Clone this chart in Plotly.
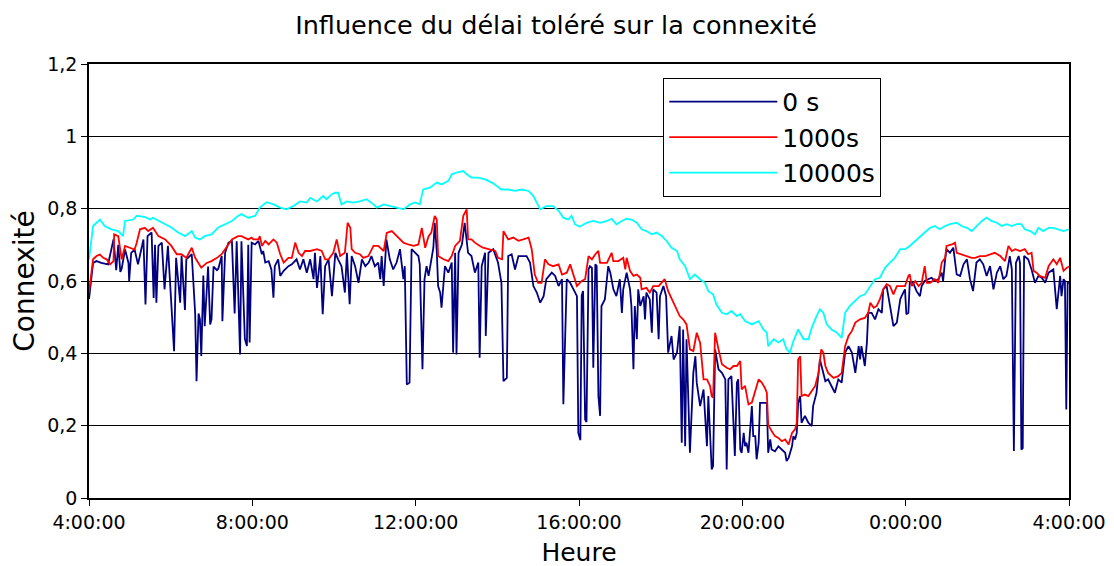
import pandas as pd
import plotly.graph_objects as go

# temps en minutes depuis 4:00:00, connexité
t_0s = [0, 6, 11, 18, 28, 36, 40, 43, 46, 48, 53, 58, 59, 62, 67, 72, 80, 83, 86, 92,
        95, 97, 99, 102, 107, 111, 116, 121, 125, 128, 134, 136, 141, 143, 151, 156, 158, 161, 163, 165,
        168, 170, 175, 178, 180, 183, 188, 190, 195, 196, 200, 205, 210, 214, 217, 222, 224, 229, 232, 234,
        236, 239, 244, 249, 254, 256, 259, 264, 268, 271, 273, 278, 281, 286, 293, 298, 305, 310, 315, 320,
        325, 330, 332, 335, 340, 342, 343.4, 347, 352, 357, 362, 366, 371, 376, 379, 383, 386, 391, 396, 401,
        406, 411, 415, 420, 425, 428, 430, 433, 437, 442, 447, 452, 457, 462, 464, 467, 471, 474, 479, 484,
        486, 490, 493, 496, 499, 503, 506, 508, 511, 513, 516, 518, 521, 523, 528, 533, 535, 538, 540, 543,
        548, 552, 557, 562, 567, 572, 574, 577, 582, 583, 587, 594, 601, 606, 609, 614, 616, 621, 626, 631,
        636, 643, 648, 653, 658, 663, 668, 672, 680, 685, 690, 695, 697, 702, 707, 712, 717, 719, 722, 724,
        726, 729, 731, 734, 736, 739, 741, 744, 746, 748.5, 751, 753, 758, 761, 763, 766, 770.5, 775, 780, 783,
        785, 790, 795, 797, 800, 802, 805, 807, 810, 815, 817, 819, 824, 827, 829, 834, 837, 839, 844, 848,
        851, 856, 859, 864, 868, 871, 873, 876, 878, 883, 888, 891, 893, 898, 903, 908, 910, 915, 917, 920,
        925, 930, 935, 937, 939.5, 944, 949, 952, 954, 957, 959, 962, 964, 966, 969, 974, 976, 979, 981, 984,
        986, 991, 996, 998, 1001, 1003, 1008, 1013, 1018, 1023, 1025, 1028, 1033, 1035, 1037.5, 1040, 1042, 1045, 1047, 1052,
        1057, 1062, 1064, 1069, 1074, 1079, 1082, 1086, 1091, 1096, 1101, 1106, 1111, 1116, 1121, 1126, 1131, 1133, 1135, 1140,
        1143, 1145, 1150, 1155, 1160, 1165, 1167, 1172, 1177, 1182, 1187, 1192, 1194, 1199, 1201, 1204, 1206, 1211, 1216, 1221,
        1223.5, 1228, 1233, 1238, 1243, 1248, 1253, 1255, 1258, 1260, 1265, 1270, 1275, 1280, 1285, 1290, 1294.5, 1299, 1304, 1309,
        1314, 1319, 1324, 1329, 1334, 1339, 1343.5, 1348, 1353, 1356, 1359, 1362, 1366, 1368, 1370, 1372, 1374, 1380, 1385, 1390,
        1395, 1400, 1405, 1410, 1417, 1422, 1427, 1429, 1432, 1434, 1436, 1438, 1440]
c_0s = [0.55, 0.65, 0.655, 0.65, 0.646, 0.715, 0.63, 0.70, 0.625, 0.634, 0.687, 0.65, 0.60, 0.678, 0.687, 0.646, 0.715, 0.535, 0.724, 0.734,
        0.553, 0.70, 0.54, 0.697, 0.706, 0.577, 0.697, 0.55, 0.406, 0.664, 0.54, 0.67, 0.52, 0.66, 0.674, 0.51, 0.323, 0.51, 0.494, 0.393,
        0.615, 0.475, 0.64, 0.48, 0.494, 0.64, 0.63, 0.634, 0.669, 0.489, 0.678, 0.706, 0.71, 0.51, 0.71, 0.397, 0.71, 0.44, 0.42, 0.70,
        0.43, 0.706, 0.701, 0.711, 0.674, 0.683, 0.651, 0.655, 0.632, 0.554, 0.641, 0.66, 0.614, 0.628, 0.641, 0.646, 0.66, 0.632, 0.66, 0.623,
        0.66, 0.605, 0.678, 0.581, 0.669, 0.568, 0.508, 0.641, 0.66, 0.558, 0.678, 0.66, 0.641, 0.568, 0.678, 0.536, 0.669, 0.641, 0.595, 0.66,
        0.641, 0.651, 0.669, 0.641, 0.651, 0.605, 0.669, 0.586, 0.715, 0.66, 0.632, 0.651, 0.688, 0.605, 0.641, 0.314, 0.319, 0.688, 0.678, 0.669,
        0.646, 0.356, 0.605, 0.641, 0.614, 0.66, 0.692, 0.761, 0.683, 0.586, 0.568, 0.526, 0.605, 0.641, 0.623, 0.651, 0.402, 0.678, 0.397, 0.678,
        0.701, 0.761, 0.678, 0.669, 0.623, 0.651, 0.388, 0.641, 0.678, 0.448, 0.678, 0.688, 0.651, 0.595, 0.323, 0.332, 0.669, 0.674, 0.632, 0.669,
        0.669, 0.669, 0.651, 0.586, 0.568, 0.54, 0.558, 0.605, 0.623, 0.614, 0.586, 0.605, 0.259, 0.605, 0.595, 0.577, 0.558, 0.18, 0.16, 0.56,
        0.572, 0.217, 0.21, 0.632, 0.641, 0.636, 0.36, 0.646, 0.641, 0.282, 0.227, 0.531, 0.549, 0.605, 0.641, 0.623, 0.577, 0.558, 0.605, 0.512,
        0.577, 0.623, 0.577, 0.531, 0.356, 0.531, 0.439, 0.577, 0.531, 0.558, 0.494, 0.568, 0.549, 0.457, 0.577, 0.568, 0.439, 0.558, 0.586, 0.558,
        0.402, 0.448, 0.383, 0.402, 0.475, 0.153, 0.466, 0.143, 0.439, 0.125, 0.346, 0.392, 0.319, 0.254, 0.30, 0.143, 0.282, 0.079, 0.088, 0.411,
        0.356, 0.346, 0.328, 0.079, 0.328, 0.337, 0.116, 0.319, 0.328, 0.134, 0.125, 0.18, 0.143, 0.153, 0.125, 0.254, 0.171, 0.171, 0.107, 0.153,
        0.263, 0.263, 0.263, 0.125, 0.162, 0.134, 0.129, 0.143, 0.134, 0.125, 0.102, 0.111, 0.143, 0.171, 0.162, 0.18, 0.263, 0.282, 0.208, 0.227,
        0.208, 0.199, 0.254, 0.291, 0.383, 0.346, 0.323, 0.328, 0.31, 0.291, 0.328, 0.319, 0.402, 0.42, 0.402, 0.346, 0.42, 0.383, 0.42, 0.365,
        0.429, 0.512, 0.512, 0.494, 0.522, 0.512, 0.577, 0.586, 0.531, 0.475, 0.485, 0.549, 0.558, 0.577, 0.508, 0.512, 0.595, 0.595, 0.572, 0.558,
        0.586, 0.60, 0.605, 0.609, 0.60, 0.605, 0.623, 0.60, 0.66, 0.688, 0.678, 0.692, 0.618, 0.614, 0.646, 0.66, 0.605, 0.572, 0.651, 0.66,
        0.646, 0.614, 0.641, 0.577, 0.623, 0.641, 0.605, 0.614, 0.669, 0.632, 0.13, 0.65, 0.669, 0.65, 0.134, 0.138, 0.669, 0.66, 0.632, 0.595,
        0.614, 0.609, 0.595, 0.623, 0.632, 0.522, 0.614, 0.558, 0.605, 0.60, 0.245, 0.595, 0.595]

t_1000s = [0, 6, 11, 16, 21, 26, 31, 36, 37, 43, 48, 53, 60, 67, 70, 75, 82, 87, 94, 102,
           112, 121, 129, 136, 143, 151, 156, 161, 165, 173, 180, 188, 195, 200, 210, 219, 224, 234, 239, 241.5,
           249, 251, 254, 259, 264, 271, 276, 281, 286, 293, 298, 303, 308, 313, 317.5, 325, 335, 342, 347, 352,
           359, 364, 369, 376, 380, 384, 386, 391, 398, 403, 410.5, 418, 425, 433, 437.5, 445, 452, 457, 462, 469,
           477, 484, 489, 494, 499, 503, 508, 511, 513, 521, 528, 533, 538, 545, 550, 555, 557, 562, 567, 574.5,
           579, 587, 597, 601, 607, 609, 616, 623.5, 631, 638, 646, 650.5, 655, 660, 665, 670, 675, 682, 690, 695,
           702, 707, 712, 717, 724, 729, 734, 739, 744, 748.5, 751, 761, 768, 770.5, 778, 785, 788, 790, 795, 800,
           805, 810, 812, 819, 824, 829, 837, 842, 846, 851, 859, 864, 868, 873, 878, 883, 888, 893, 898, 903,
           908, 912.5, 915, 917, 920, 925, 930, 937, 942, 947, 952, 957, 959, 964, 969, 974, 979, 984, 988.5, 993,
           996, 998, 1003, 1008, 1013, 1018, 1023, 1028, 1033, 1037.5, 1040, 1042, 1045, 1047, 1052, 1057, 1062, 1067, 1072, 1076,
           1079, 1082, 1086, 1094, 1101, 1106, 1111, 1116, 1121, 1126, 1133, 1140, 1145, 1148, 1153, 1157.5, 1162, 1167, 1172, 1177,
           1182, 1187, 1194, 1199, 1204, 1206, 1209, 1214, 1219, 1223.5, 1228, 1231, 1236, 1243, 1248, 1253, 1258, 1260, 1268, 1272.5,
           1275, 1282, 1290, 1297, 1302, 1309, 1317, 1324, 1331, 1339, 1346, 1351, 1356, 1361, 1368, 1375, 1380, 1385, 1388, 1392.5,
           1397, 1405, 1410, 1417, 1422, 1427, 1432, 1437, 1440]
c_1000s = [0.568, 0.66, 0.669, 0.673, 0.664, 0.66, 0.646, 0.655, 0.729, 0.724, 0.66, 0.697, 0.692, 0.687, 0.705, 0.743, 0.747, 0.738, 0.747, 0.724,
           0.715, 0.697, 0.674, 0.674, 0.664, 0.692, 0.664, 0.65, 0.637, 0.65, 0.655, 0.664, 0.674, 0.688, 0.715, 0.724, 0.724, 0.715, 0.72, 0.715,
           0.715, 0.724, 0.697, 0.711, 0.701, 0.715, 0.706, 0.674, 0.651, 0.664, 0.664, 0.706, 0.678, 0.669, 0.683, 0.683, 0.688, 0.683, 0.66, 0.66,
           0.678, 0.715, 0.669, 0.678, 0.761, 0.747, 0.688, 0.678, 0.674, 0.664, 0.669, 0.697, 0.697, 0.683, 0.733, 0.738, 0.724, 0.715, 0.706, 0.701,
           0.697, 0.701, 0.747, 0.692, 0.724, 0.734, 0.78, 0.77, 0.669, 0.66, 0.655, 0.669, 0.697, 0.711, 0.78, 0.798, 0.715, 0.715, 0.706, 0.697,
           0.692, 0.688, 0.683, 0.664, 0.66, 0.738, 0.715, 0.72, 0.711, 0.715, 0.72, 0.688, 0.618, 0.595, 0.595, 0.66, 0.646, 0.641, 0.646, 0.618,
           0.623, 0.646, 0.614, 0.586, 0.60, 0.605, 0.669, 0.66, 0.674, 0.683, 0.65, 0.65, 0.678, 0.655, 0.655, 0.664, 0.632, 0.664, 0.628, 0.614,
           0.618, 0.609, 0.577, 0.581, 0.568, 0.586, 0.586, 0.595, 0.605, 0.572, 0.54, 0.517, 0.503, 0.494, 0.48, 0.411, 0.406, 0.457, 0.429, 0.328,
           0.328, 0.31, 0.282, 0.277, 0.457, 0.411, 0.37, 0.36, 0.356, 0.365, 0.365, 0.379, 0.30, 0.31, 0.259, 0.264, 0.296, 0.328, 0.319, 0.305,
           0.291, 0.203, 0.185, 0.171, 0.166, 0.157, 0.162, 0.148, 0.18, 0.19, 0.208, 0.383, 0.392, 0.282, 0.286, 0.282, 0.296, 0.31, 0.346, 0.411,
           0.402, 0.365, 0.346, 0.332, 0.337, 0.346, 0.42, 0.448, 0.462, 0.485, 0.494, 0.498, 0.512, 0.54, 0.526, 0.531, 0.549, 0.577, 0.591, 0.586,
           0.563, 0.586, 0.586, 0.586, 0.614, 0.618, 0.586, 0.60, 0.586, 0.595, 0.641, 0.595, 0.595, 0.605, 0.595, 0.651, 0.664, 0.697, 0.701, 0.706,
           0.678, 0.674, 0.669, 0.664, 0.664, 0.669, 0.669, 0.674, 0.678, 0.669, 0.655, 0.697, 0.683, 0.688, 0.683, 0.688, 0.674, 0.678, 0.628, 0.623,
           0.614, 0.609, 0.641, 0.66, 0.646, 0.664, 0.628, 0.637, 0.64]

t_10000s = [0, 6, 16, 23, 33, 43, 50, 53, 65, 70, 82, 90, 94, 102, 112, 121, 131, 141, 151, 156,
            163, 170, 180, 190, 200, 210, 219, 224, 234, 244, 251, 261, 271, 281, 290, 300, 310, 320, 325, 335,
            344, 349, 357, 362, 366, 371, 379, 388, 398, 408, 418, 423, 433, 442, 452, 462, 472, 479, 486, 491,
            501, 511, 518, 528, 533, 540, 550, 555, 562, 572, 582, 592, 599, 606, 616, 626, 636, 646, 653, 660,
            663, 672, 682, 690, 697, 704, 709, 714, 721, 731, 741, 751, 761, 768, 775, 783, 790, 797, 805, 812,
            819, 827, 834, 842, 849, 856, 864, 868, 876, 883, 890, 898, 905, 910, 917, 922, 930, 937, 944, 952,
            957, 964, 974, 984, 991, 996, 998, 1006, 1013, 1020, 1025, 1030, 1035, 1042, 1050, 1057, 1062, 1069, 1074, 1079,
            1084, 1091, 1099, 1106, 1111, 1118, 1126, 1133, 1140, 1148, 1155, 1162, 1170, 1177, 1184, 1192, 1199, 1206, 1214, 1221,
            1228, 1236, 1243, 1250, 1258, 1265, 1275, 1282, 1290, 1297, 1304, 1312, 1319, 1326, 1334, 1341, 1348, 1356, 1363, 1370,
            1375, 1383, 1390, 1395, 1402, 1410, 1417, 1424, 1432, 1440]
c_10000s = [0.66, 0.752, 0.77, 0.752, 0.743, 0.738, 0.724, 0.766, 0.77, 0.78, 0.777, 0.77, 0.775, 0.766, 0.757, 0.748, 0.734, 0.724, 0.738, 0.72,
            0.715, 0.724, 0.729, 0.748, 0.757, 0.766, 0.78, 0.785, 0.775, 0.78, 0.803, 0.818, 0.812, 0.803, 0.798, 0.807, 0.82, 0.817, 0.83, 0.82,
            0.835, 0.826, 0.84, 0.844, 0.844, 0.812, 0.82, 0.817, 0.82, 0.826, 0.812, 0.803, 0.812, 0.807, 0.803, 0.798, 0.812, 0.817, 0.812, 0.853,
            0.858, 0.872, 0.867, 0.877, 0.895, 0.90, 0.904, 0.895, 0.886, 0.886, 0.881, 0.872, 0.863, 0.853, 0.853, 0.849, 0.853, 0.849, 0.835, 0.807,
            0.798, 0.807, 0.807, 0.794, 0.775, 0.77, 0.78, 0.757, 0.75, 0.761, 0.766, 0.761, 0.766, 0.772, 0.757, 0.766, 0.772, 0.77, 0.761, 0.743,
            0.738, 0.729, 0.734, 0.724, 0.71, 0.692, 0.683, 0.66, 0.641, 0.605, 0.618, 0.605, 0.595, 0.572, 0.563, 0.535, 0.512, 0.508, 0.517, 0.503,
            0.508, 0.489, 0.48, 0.489, 0.466, 0.457, 0.42, 0.439, 0.43, 0.439, 0.411, 0.402, 0.434, 0.466, 0.439, 0.439, 0.471, 0.503, 0.522, 0.512,
            0.48, 0.466, 0.457, 0.443, 0.512, 0.531, 0.545, 0.558, 0.563, 0.586, 0.605, 0.609, 0.637, 0.651, 0.664, 0.688, 0.688, 0.697, 0.711, 0.724,
            0.734, 0.747, 0.752, 0.743, 0.752, 0.757, 0.761, 0.752, 0.747, 0.738, 0.752, 0.766, 0.775, 0.766, 0.761, 0.752, 0.757, 0.752, 0.757, 0.757,
            0.743, 0.738, 0.729, 0.747, 0.738, 0.747, 0.747, 0.743, 0.738, 0.743]

noms = ["0 s", "1000s", "10000s"]
couleurs = ["#000080", "#ff0000", "#00ffff"]

debut = pd.Timestamp("2000-01-01 04:00:00")


def heures(minutes):
    return debut + pd.to_timedelta(minutes, unit="m")


fig = go.Figure()
for t, c, nom, coul in zip([t_0s, t_1000s, t_10000s], [c_0s, c_1000s, c_10000s], noms, couleurs):
    fig.add_trace(go.Scatter(x=heures(t), y=c, mode="lines", name=nom,
                             line=dict(color=coul, width=1.8)))

police = "DejaVu Sans, sans-serif"
# la page ajoute 8 px de marge autour du graphique : on décale les marges d'autant
fig.update_layout(
    width=1114, height=566,
    margin=dict(l=81, r=53, t=56, b=76),
    paper_bgcolor="white", plot_bgcolor="white",
    separators=", ",
    font=dict(family=police, color="black"),
    title=dict(text="Influence du délai toléré sur la connexité", x=0.492, xanchor="center",
               y=0.97, yanchor="middle", font=dict(size=25.5)),
    legend=dict(x=0.586, y=0.968, xanchor="left", yanchor="top", bordercolor="black", borderwidth=1,
                bgcolor="white", font=dict(size=25), itemwidth=108, tracegroupgap=0),
    showlegend=True,
)
fig.update_xaxes(range=[heures(0), heures(1440)], type="date", tickformat="%-H:%M:%S",
                 dtick=4 * 3600 * 1000, tick0=heures(0), showgrid=False, showline=True,
                 linecolor="black", linewidth=1.5, mirror=True, ticks="outside", ticklen=6,
                 tickcolor="black", tickfont=dict(size=19), automargin=False,
                 title=dict(text="Heure", font=dict(size=25), standoff=12))
fig.update_yaxes(range=[0, 1.2], dtick=0.2, showgrid=True, gridcolor="black", gridwidth=1,
                 showline=True, linecolor="black", linewidth=1.5, mirror=True, ticks="outside",
                 ticklen=6, tickcolor="black", tickfont=dict(size=19), zeroline=False, automargin=False,
                 title=dict(text="Connexité", font=dict(size=28), standoff=8))

fig.write_html("out.html")
